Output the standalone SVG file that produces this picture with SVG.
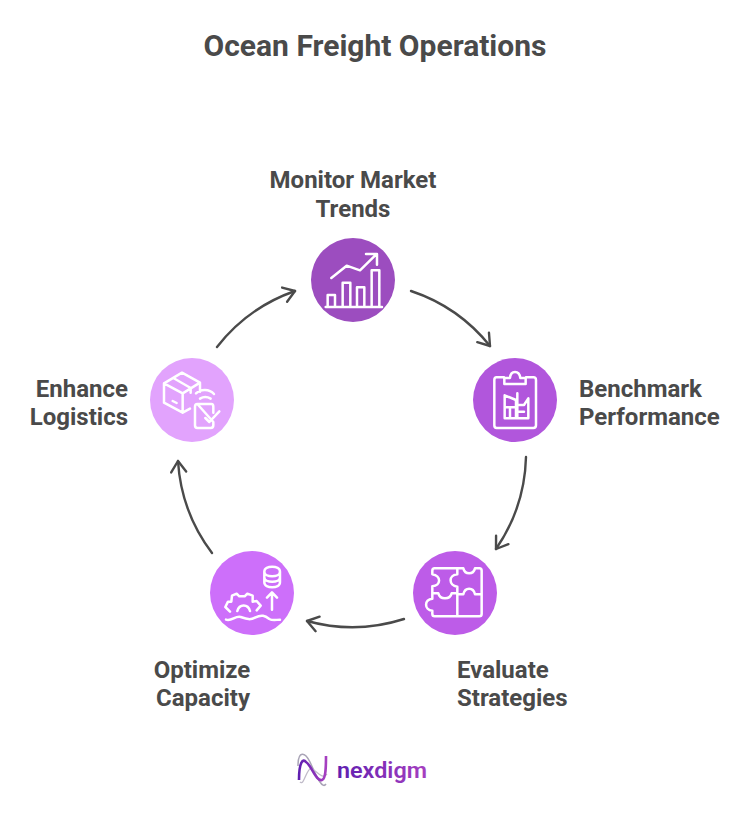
<svg xmlns="http://www.w3.org/2000/svg" width="751" height="831" viewBox="0 0 751 831">
<style>
text{font-family:Roboto,"Liberation Sans",sans-serif;font-weight:700;fill:#4a4a4a}
.t{font-size:24px}
.m{text-anchor:middle}
.e{text-anchor:end}
.i{fill:none;stroke:#fff;stroke-width:7.5;stroke-linecap:round;stroke-linejoin:round}
.c{fill:none;stroke:#4a4a4a;stroke-width:2.4;stroke-linecap:round;marker-end:url(#a)}
</style>
<defs>
<marker id="a" viewBox="-14 -9 16 18" refX="0" refY="0" markerWidth="16" markerHeight="18" markerUnits="userSpaceOnUse" orient="auto"><path d="M-11 -7.5L0 0L-11 7.5" fill="none" stroke="#4a4a4a" stroke-width="2.4" stroke-linecap="round" stroke-linejoin="round"/></marker>
<linearGradient id="g" x1="0" x2="1" y1="0" y2="0"><stop offset="0" stop-color="#5f1fb0"/><stop offset="1" stop-color="#a63fc0"/></linearGradient>
</defs>
<rect width="751" height="831" fill="#fff"/>
<text id="title" x="375" y="56" class="m" font-size="30">Ocean Freight Operations</text>
<g id="connectors">
<path class="c" d="M411 291A170 170 0 0 1 490 346"/>
<path class="c" d="M526 457A170 170 0 0 1 496 549"/>
<path class="c" d="M404 619A170 170 0 0 1 307 621"/>
<path class="c" d="M212 553A170 170 0 0 1 178 461"/>
<path class="c" d="M217 347A170 170 0 0 1 295 291"/>
</g>
<g id="node-monitor">
<circle cx="353" cy="280" r="42" fill="#9c4dbf"/>
<g transform="translate(300 230) scale(.3333)"><path class="i" d="M77 231H246M83 228V195H105V228M128 228V158H151V228M171 228V172H193V228M215 228V121H238V228M94 144L140 107L180 121L228 74M198 72H231V104"/></g>
<text class="t m" x="353" y="188">Monitor Market</text><text class="t m" x="353" y="217">Trends</text>
</g>
<g id="node-benchmark">
<circle cx="515" cy="400" r="42" fill="#b156dc"/>
<g transform="translate(460 350) scale(.3333)"><path class="i" d="M132 82H110Q103 82 103 90V226Q103 234 110 234H220Q228 234 228 226V90Q228 82 220 82H198M133 84H150C152 60 178 60 181 84H197V102H133ZM134 205V136L168 150V205ZM134 172H168M150 172V205M172 130V205M172 165H192M172 185H192M192 165L205 145V205H134"/></g>
<text class="t" x="579" y="397">Benchmark</text><text class="t" x="579" y="425">Performance</text>
</g>
<g id="node-evaluate">
<circle cx="455" cy="593" r="42" fill="#bd5ce8"/>
<g transform="translate(400 545) scale(.3333)"><path class="i" d="M172 70H104Q97 70 97 77V88C124 92 124 122 97 124V145H115C120 165 150 165 155 145H172V125C145 122 145 90 172 88V70H190C195 90 220 90 225 70H238Q245 70 245 77V207Q245 214 238 214H104Q97 214 97 207V197C72 195 72 163 97 161V145M172 148V214M172 148H190C195 126 220 126 225 148H245"/></g>
<text class="t" x="457" y="678">Evaluate</text><text class="t" x="457" y="706">Strategies</text>
</g>
<g id="node-optimize">
<circle cx="252" cy="593" r="42" fill="#cd6ffa"/>
<g transform="translate(200 545) scale(.3333)"><path class="i" d="M193 80C193 60 240 60 240 80V112C240 132 193 132 193 112ZM193 80C193 98 240 98 240 80M193 97C193 115 240 115 240 97M216 194V144M201 158L216 142L231 158M78 224C95 230 105 212 122 216C140 222 150 226 165 218C185 208 195 212 208 222C218 228 230 224 240 224M112 198C118 176 144 176 150 198M90 200L76 186L84 170L94 170L96 152L110 146L118 154L134 154L142 146L158 152L158 170L170 168L182 182L170 196"/></g>
<text class="t m" x="202" y="678">Optimize</text><text class="t m" x="203" y="706">Capacity</text>
</g>
<g id="node-enhance">
<circle cx="192" cy="400" r="42" fill="#e2a3fd"/>
<g transform="translate(140 350) scale(.3333)"><path class="i" d="M72 100L126 68L180 98V125M72 100V158L128 188L150 176M72 100L128 130V188M128 130L180 98M100 84L152 114V128M98 153L110 159M168 130C182 116 208 116 222 132M180 146C190 140 202 140 212 146M172 162H214Q220 162 220 170V188M220 216V226Q220 234 212 234H172Q165 234 165 226V170Q165 162 172 162ZM196 204L208 216L238 184"/></g>
<text class="t e" x="128" y="397">Enhance</text><text class="t e" x="128" y="425">Logistics</text>
</g>
<g id="logo">
<path d="M298 766C298 750 305 752 310 762C316 775 322 790 326 784" fill="none" stroke="#a9a4b6" stroke-width="1.5"/>
<path d="M300 782C304 786 306 770 311 768C318 772 322 780 327 774" fill="none" stroke="#c0bbc9" stroke-width="1.3"/>
<path d="M299 780C299 762 303 758 306 762C312 766 316 782 322 780C326 779 326 765 326 756" fill="none" stroke="url(#g)" stroke-width="2.6"/>
<text x="337" y="778" font-size="22" style="fill:url(#g);font-weight:600" textLength="90" lengthAdjust="spacingAndGlyphs">nexdigm</text>
</g>
</svg>
